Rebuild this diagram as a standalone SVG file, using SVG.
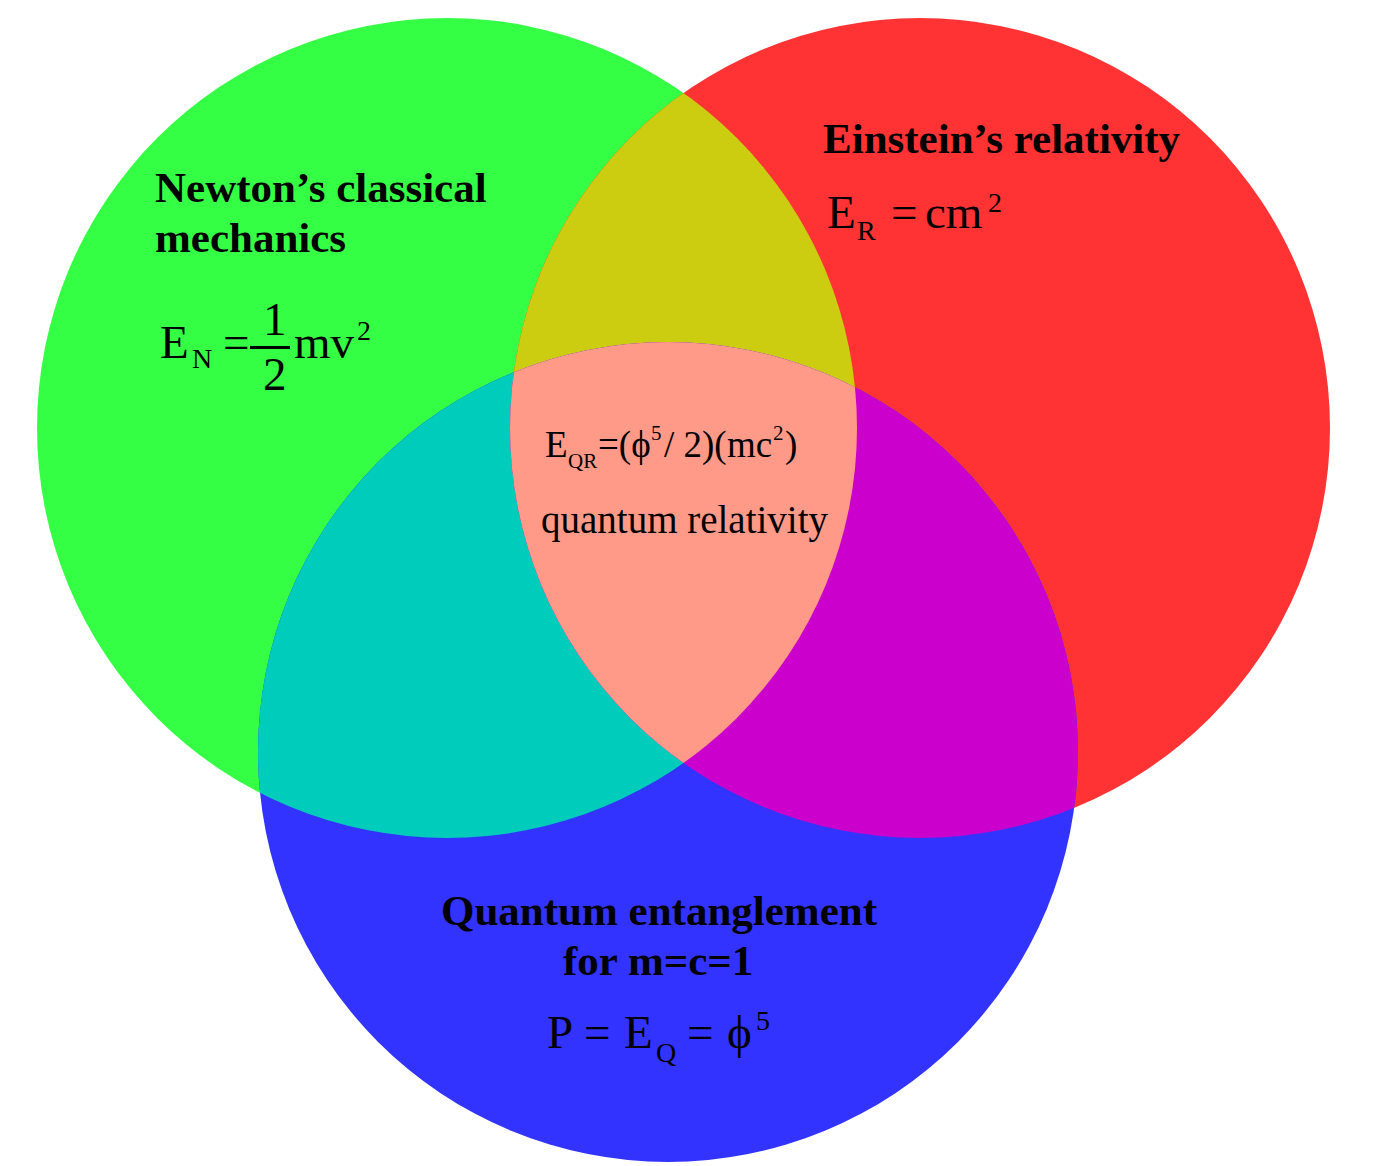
<svg xmlns="http://www.w3.org/2000/svg" xmlns:xlink="http://www.w3.org/1999/xlink" width="1373" height="1166" viewBox="0 0 1373 1166">
<style>
text{font-family:"Liberation Serif","Times New Roman",serif;fill:#000}
.h{font-weight:bold;font-size:43px}
.m{font-size:47px}
.s{font-size:28px}
.c{font-size:39px}
.f{font-size:37px}
.cs{font-size:21px}
</style>
<defs>
<circle id="cG" cx="447" cy="428" r="410"/>
<circle id="cR" cx="920" cy="428" r="410"/>
<circle id="cB" cx="668" cy="752" r="410"/>
<clipPath id="kG"><use xlink:href="#cG"/></clipPath>
<clipPath id="kR"><use xlink:href="#cR"/></clipPath>
<clipPath id="kB"><use xlink:href="#cB"/></clipPath>
</defs>
<rect width="1373" height="1166" fill="#fff"/>
<g id="newton">
<use xlink:href="#cG" fill="#35FF45"/>
</g>
<g id="einstein">
<use xlink:href="#cR" fill="#FF3333"/>
</g>
<g id="quantum">
<use xlink:href="#cB" fill="#3333FF"/>
</g>
<g id="overlaps">
<g clip-path="url(#kG)"><use xlink:href="#cR" fill="#CCCC11"/></g>
<g clip-path="url(#kG)"><use xlink:href="#cB" fill="#00CCBB"/></g>
<g clip-path="url(#kR)"><use xlink:href="#cB" fill="#CC00CC"/></g>
<g clip-path="url(#kG)"><g clip-path="url(#kR)"><use xlink:href="#cB" fill="#FF9988"/></g></g>
</g>
<g id="connectors"/>
<g id="newton-label">
<text class="h" x="155" y="202">Newton’s classical</text>
<text class="h" x="155" y="252">mechanics</text>
<text class="m" x="160" y="358">E</text>
<text class="s" x="192" y="368">N</text>
<text class="m" x="223" y="358">=</text>
<text class="m" x="263" y="335">1</text>
<rect x="250" y="346" width="40" height="3" fill="#000"/>
<text class="m" x="263" y="390">2</text>
<text class="m" x="294" y="358">mv</text>
<text class="s" x="357" y="340">2</text>
</g>
<g id="einstein-label">
<text class="h" x="823" y="153">Einstein’s relativity</text>
<text class="m" x="827" y="228">E</text>
<text class="s" x="857" y="240">R</text>
<text class="m" x="891" y="228">=</text>
<text class="m" x="925" y="228">cm</text>
<text class="s" x="988" y="212">2</text>
</g>
<g id="center-label">
<text class="f" x="545" y="457">E</text>
<text class="cs" x="568" y="468">QR</text>
<text class="f" x="598" y="457">=(ϕ</text>
<text class="cs" x="651" y="440">5</text>
<text class="f" x="664" y="457">/ 2)(</text>
<text class="f" x="727" y="457">mc</text>
<text class="cs" x="773" y="440">2</text>
<text class="f" x="785" y="457">)</text>
<text class="c" x="541" y="533">quantum relativity</text>
</g>
<g id="quantum-label">
<text class="h" x="441" y="925">Quantum entanglement</text>
<text class="h" x="563" y="975">for m=c=1</text>
<text class="m" x="547" y="1048">P</text>
<text class="m" x="584" y="1048">=</text>
<text class="m" x="624" y="1048">E</text>
<text class="s" x="656" y="1062">Q</text>
<text class="m" x="687" y="1048">=</text>
<text class="m" x="727" y="1048">ϕ</text>
<text class="s" x="756" y="1030">5</text>
</g>
</svg>
